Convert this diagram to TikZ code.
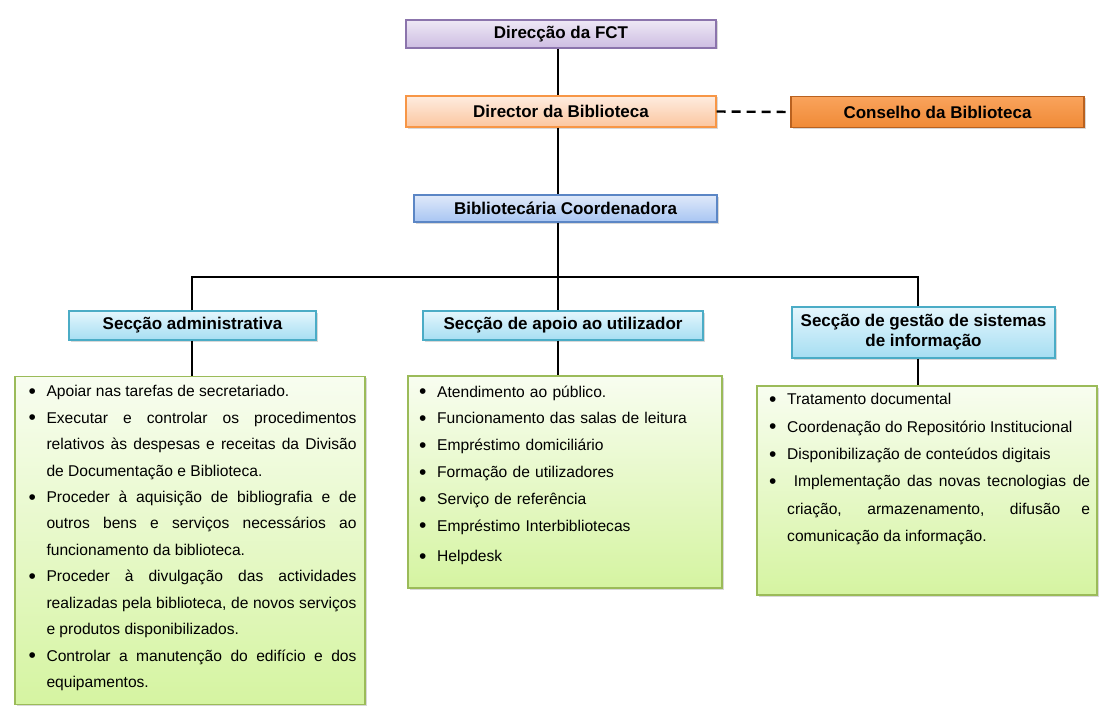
\documentclass[tikz,border=0pt]{standalone}
\usepackage{fontspec}
\setmainfont{Liberation Sans}
\usetikzlibrary{shadows}

\definecolor{roxoA}{HTML}{EEE8F5}
\definecolor{roxoB}{HTML}{CDBDE2}
\definecolor{roxoL}{HTML}{8B74AC}
\definecolor{larA}{HTML}{FEECDF}
\definecolor{larB}{HTML}{FBC6A0}
\definecolor{larL}{HTML}{F79646}
\definecolor{forteA}{HTML}{F9A35C}
\definecolor{forteB}{HTML}{F08A36}
\definecolor{forteL}{HTML}{B9611F}
\definecolor{azulA}{HTML}{DFE9F9}
\definecolor{azulB}{HTML}{A8C5F3}
\definecolor{azulL}{HTML}{5B86C5}
\definecolor{cianoA}{HTML}{E4F6FD}
\definecolor{cianoB}{HTML}{A6DEF2}
\definecolor{cianoL}{HTML}{4BACC6}
\definecolor{verdeA}{HTML}{F8FDF0}
\definecolor{verdeB}{HTML}{D5F4A1}
\definecolor{verdeL}{HTML}{9BBB59}

\hyphenpenalty=10000
\exhyphenpenalty=10000
\tolerance=9000

\newcommand\marcador{\par\noindent\hangindent=18pt\hangafter=1\makebox[18pt][l]{\raisebox{-1.8pt}{\fontsize{21}{21}\selectfont\textbullet}}}

\tikzset{
  caixa/.style={draw, line width=1.3pt, inner sep=2pt, align=center,
    font=\fontsize{17}{20}\selectfont\bfseries,
    drop shadow={shadow xshift=1.5pt, shadow yshift=-1.5pt, opacity=0.3}},
  roxo/.style={top color=roxoA, bottom color=roxoB, draw=roxoL},
  laranja/.style={top color=larA, bottom color=larB, draw=larL},
  conselhobox/.style={top color=forteA, bottom color=forteB, draw=forteL, line width=1.8pt},
  azul/.style={top color=azulA, bottom color=azulB, draw=azulL},
  ciano/.style={top color=cianoA, bottom color=cianoB, draw=cianoL},
  lista/.style={draw=verdeL, line width=1.3pt, top color=verdeA, bottom color=verdeB,
    drop shadow={shadow xshift=1.5pt, shadow yshift=-1.5pt, opacity=0.3}},
  texto/.style={inner sep=0pt, anchor=north west, align=justify},
  linha/.style={line width=2pt, black},
  tracejado/.style={line width=2.4pt, black, dash pattern=on 9pt off 6pt}
}

\begin{document}
\begin{tikzpicture}[x=1pt,y=-1pt]
\useasboundingbox[fill=white] (0,0) rectangle (1099,706);

% caixas de cima
\node[caixa, roxo, minimum width=310pt, minimum height=28pt] (dirfct) at (561,34) {Direcção da FCT};
\node[caixa, laranja, minimum width=310pt, minimum height=31pt] (director) at (561,111.5) {Director da Biblioteca};
\node[caixa, conselhobox, minimum width=293pt, minimum height=31pt] (conselho) at (937.5,112) {Conselho da Biblioteca};
\node[caixa, azul, minimum width=303pt, minimum height=27pt] (coord) at (565.5,208.5) {Bibliotecária Coordenadora};

% secções
\node[caixa, ciano, minimum width=247pt, minimum height=29pt] (secadm) at (192.5,325.5) {Secção administrativa};
\node[caixa, ciano, minimum width=280pt, minimum height=29pt] (secapoio) at (563,325.5) {Secção de apoio ao utilizador};
\node[caixa, ciano, minimum width=263pt, minimum height=51pt] (secgestao) at (923.5,332.5) {Secção de gestão de sistemas\\de informação};

% caixas das tarefas
\node[lista, minimum width=350pt, minimum height=328pt] (listadm) at (190,540.5) {};
\node[lista, minimum width=314pt, minimum height=212pt] (listapoio) at (565,482) {};
\node[lista, minimum width=340pt, minimum height=209pt] (listgestao) at (927,490.5) {};

\node[texto, text width=328pt, font=\fontsize{15.6}{26.45}\selectfont] (txtadm) at (28.3,370) {%
\marcador Apoiar nas tarefas de secretariado.
\marcador Executar e controlar os procedimentos \linebreak relativos às despesas e receitas da Divisão \linebreak de Documentação e Biblioteca.
\marcador Proceder à aquisição de bibliografia e de \linebreak outros bens e serviços necessários ao \linebreak funcionamento da biblioteca.
\marcador Proceder à divulgação das actividades \linebreak realizadas pela biblioteca, de novos serviços \linebreak e produtos disponibilizados.
\marcador Controlar a manutenção do edifício e dos \linebreak equipamentos.\par};

\node[texto, text width=295pt, align=left, font=\fontsize{15.6}{26.8}\selectfont] (txtapoio) at (419,370) {%
\marcador Atendimento ao público.
\marcador Funcionamento das salas de leitura
\marcador Empréstimo domiciliário
\marcador Formação de utilizadores
\marcador Serviço de referência
\marcador Empréstimo Interbibliotecas\par\vspace{4pt}
\marcador Helpdesk\par};

\node[texto, text width=321pt, font=\fontsize{15.6}{27.4}\selectfont] (txtgestao) at (769,377) {%
\marcador Tratamento documental
\marcador Coordenação do Repositório Institucional
\marcador Disponibilização de conteúdos digitais
\marcador \ Implementação das novas tecnologias de \linebreak criação, armazenamento, difusão e \linebreak comunicação da informação.\par};

% ligações
\coordinate (xa) at (192,277);
\coordinate (xb) at (558,277);
\coordinate (xc) at (918,277);
\draw[linha] (xb |- dirfct.south) -- (xb |- director.north);
\draw[linha] (xb |- director.south) -- (xb |- coord.north);
\draw[linha] (xb |- coord.south) -- (xb);
\draw[linha] (xa |- secadm.north) -- (xa) -- (xc) -- (xc |- secgestao.north);
\draw[linha] (xb) -- (xb |- secapoio.north);
\draw[linha] (xa |- secadm.south) -- (xa |- listadm.north);
\draw[linha] (xb |- secapoio.south) -- (xb |- listapoio.north);
\draw[linha] (xc |- secgestao.south) -- (xc |- listgestao.north);
\draw[tracejado] (director.east) -- (conselho.west);
\end{tikzpicture}
\end{document}
